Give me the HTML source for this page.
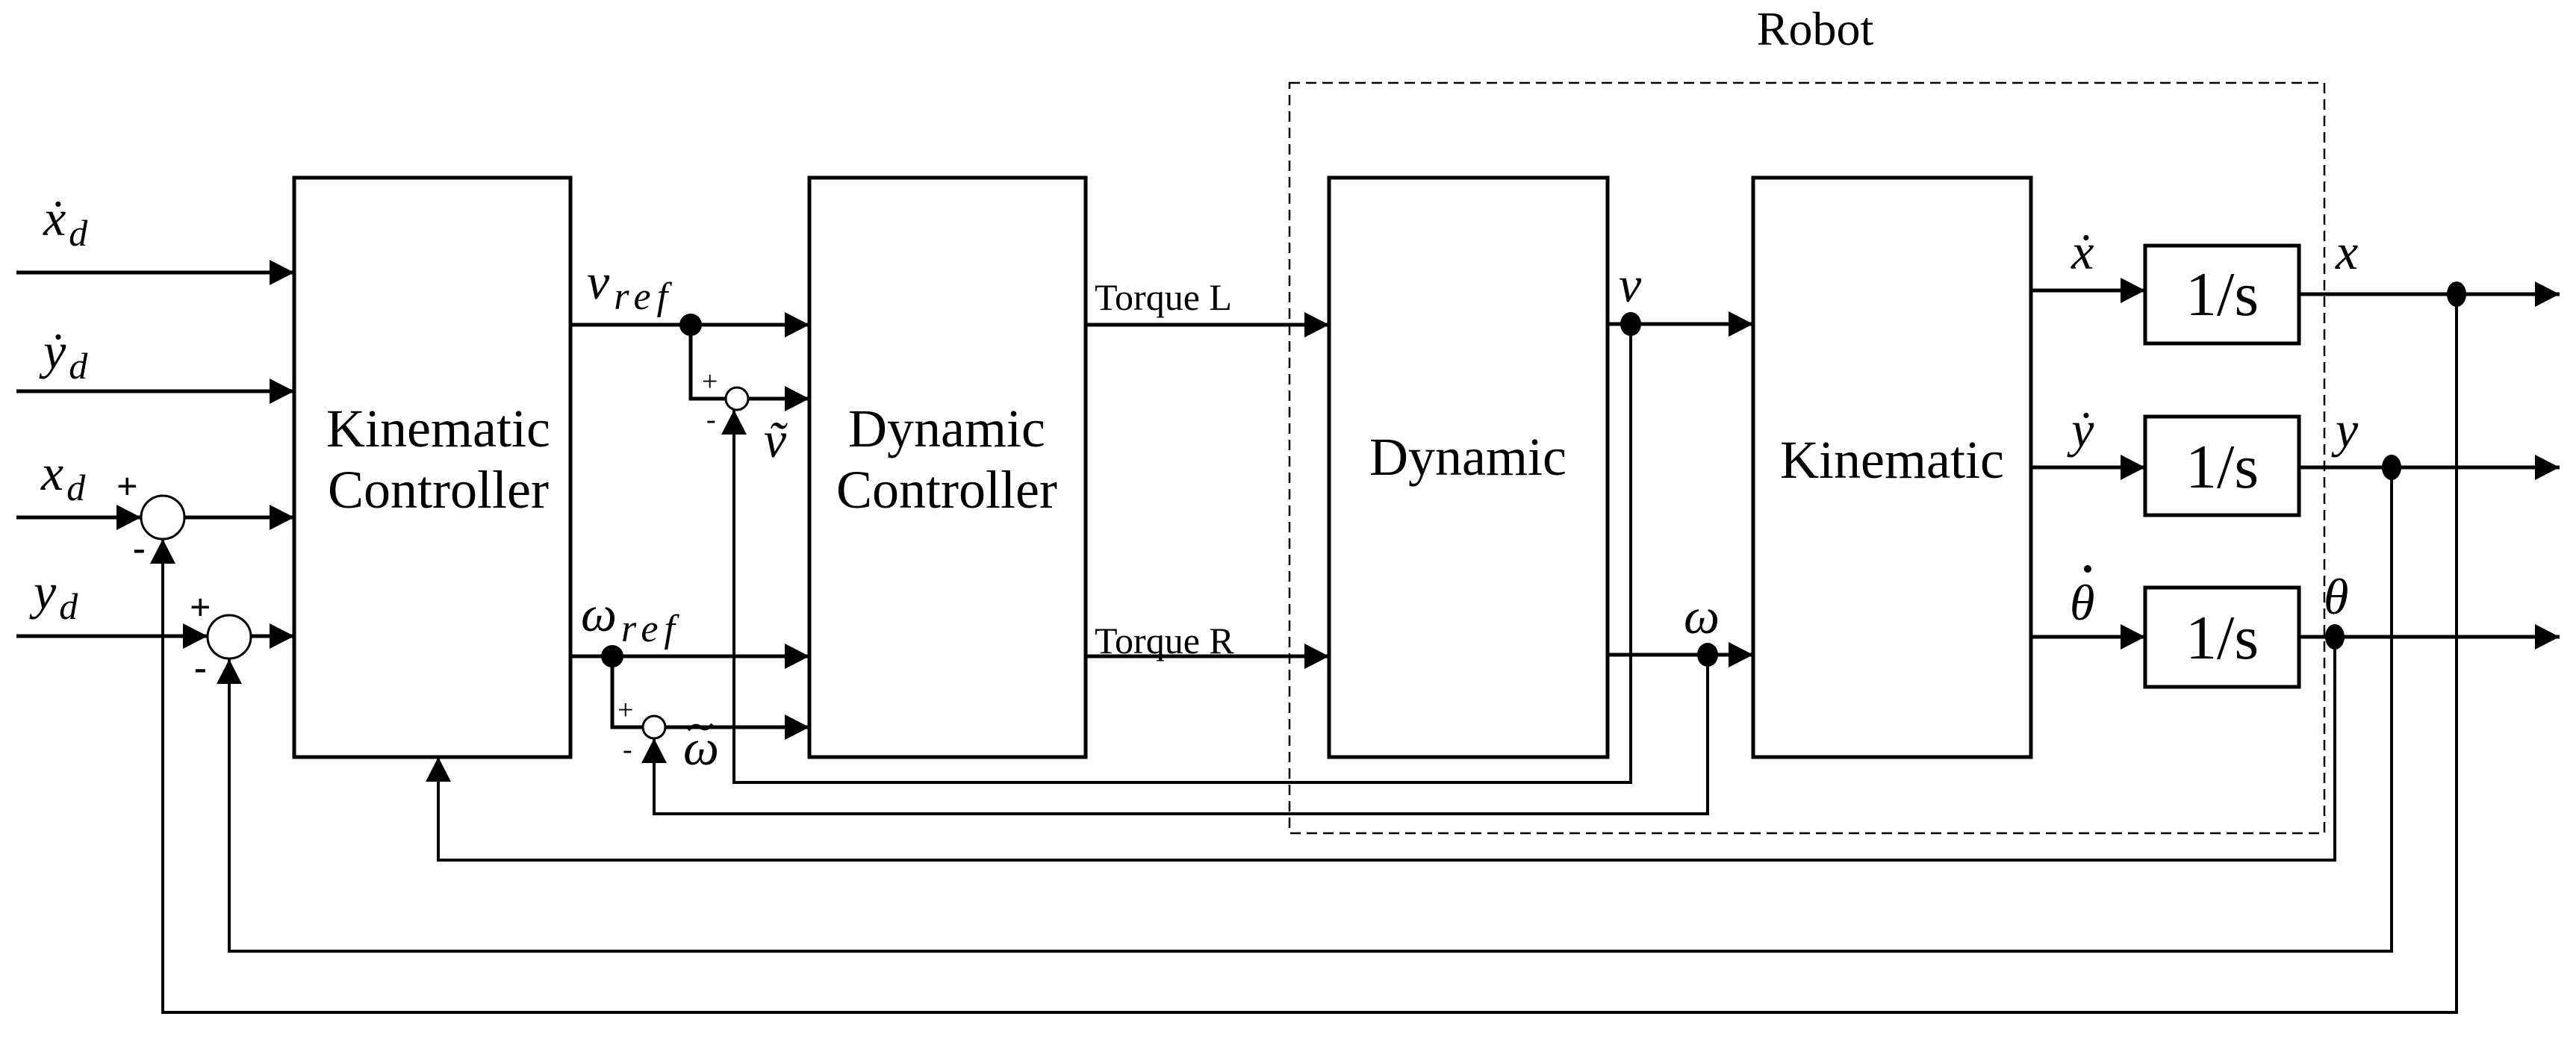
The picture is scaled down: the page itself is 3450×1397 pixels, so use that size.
<!DOCTYPE html>
<html><head><meta charset="utf-8"><style>
html,body{margin:0;padding:0;background:#fff}
svg{display:block}
text{font-family:"Liberation Serif",serif;fill:#000}
.m{font-style:italic}
</style></head><body>
<svg width="3450" height="1397" viewBox="0 0 3450 1397" xmlns="http://www.w3.org/2000/svg">
<defs>
<marker id="a" markerUnits="userSpaceOnUse" markerWidth="34" markerHeight="34" refX="33" refY="17" orient="auto">
<polygon points="0,0 33,17 0,34" fill="#000"/></marker>
</defs>
<g fill="none" stroke="#000" stroke-width="5">
<rect x="394" y="238" width="370" height="776"/>
<rect x="1084" y="238" width="370" height="776"/>
<rect x="1780" y="238" width="373" height="776"/>
<rect x="2348" y="238" width="372" height="776"/>
<rect x="2873" y="329" width="206" height="131"/>
<rect x="2873" y="558" width="206" height="132"/>
<rect x="2873" y="787" width="206" height="133"/>
</g>
<rect x="1727" y="111" width="1386" height="1005" fill="none" stroke="#000" stroke-width="2.5" stroke-dasharray="14,8"/>
<g fill="none" stroke="#000" stroke-width="5">
<line x1="22" y1="365" x2="394" y2="365" marker-end="url(#a)"/>
<line x1="22" y1="524" x2="394" y2="524" marker-end="url(#a)"/>
<line x1="22" y1="693" x2="189" y2="693" marker-end="url(#a)"/>
<line x1="247" y1="693" x2="394" y2="693" marker-end="url(#a)"/>
<line x1="22" y1="852" x2="278" y2="852" marker-end="url(#a)"/>
<line x1="336" y1="852" x2="394" y2="852" marker-end="url(#a)"/>
<line x1="764" y1="435" x2="1084" y2="435" marker-end="url(#a)"/>
<polyline points="925,435 925,534 972,534"/>
<line x1="1002" y1="534" x2="1084" y2="534" marker-end="url(#a)"/>
<line x1="764" y1="879" x2="1084" y2="879" marker-end="url(#a)"/>
<polyline points="820,879 820,974 861,974"/>
<line x1="891" y1="974" x2="1084" y2="974" marker-end="url(#a)"/>
<line x1="1454" y1="435" x2="1780" y2="435" marker-end="url(#a)"/>
<line x1="1454" y1="879" x2="1780" y2="879" marker-end="url(#a)"/>
<line x1="2153" y1="434" x2="2348" y2="434" marker-end="url(#a)"/>
<line x1="2153" y1="877" x2="2348" y2="877" marker-end="url(#a)"/>
<line x1="2720" y1="389" x2="2873" y2="389" marker-end="url(#a)"/>
<line x1="2720" y1="626" x2="2873" y2="626" marker-end="url(#a)"/>
<line x1="2720" y1="853" x2="2873" y2="853" marker-end="url(#a)"/>
<line x1="3079" y1="394" x2="3428" y2="394" marker-end="url(#a)"/>
<line x1="3079" y1="626" x2="3428" y2="626" marker-end="url(#a)"/>
<line x1="3079" y1="853" x2="3428" y2="853" marker-end="url(#a)"/>
</g>
<g fill="none" stroke="#000" stroke-width="4">
<polyline points="2184,434 2184,1048 983,1048 983,549" marker-end="url(#a)"/>
<polyline points="2287,877 2287,1090 876,1090 876,989" marker-end="url(#a)"/>
<polyline points="3127,853 3127,1152 587,1152 587,1014" marker-end="url(#a)"/>
<polyline points="3203,626 3203,1274 307,1274 307,883" marker-end="url(#a)"/>
<polyline points="3290,394 3290,1356 218,1356 218,722" marker-end="url(#a)"/>
</g>
<g fill="#fff" stroke="#000" stroke-width="3">
<circle cx="218" cy="693" r="29"/>
<circle cx="307" cy="853" r="29"/>
<circle cx="987" cy="534" r="15"/>
<circle cx="876" cy="974" r="15"/>
</g>
<g fill="#000">
<circle cx="925" cy="435" r="15"/>
<circle cx="820" cy="879" r="15"/>
<ellipse cx="2184" cy="434" rx="14" ry="16"/>
<ellipse cx="2287" cy="877" rx="14" ry="16"/>
<ellipse cx="3290" cy="394" rx="13" ry="17"/>
<ellipse cx="3203" cy="626" rx="13" ry="17"/>
<ellipse cx="3127" cy="853" rx="13" ry="17"/>
</g>
<g font-size="50" font-family="Liberation Sans, sans-serif" font-weight="bold">
<text x="156" y="668">+</text><text x="178" y="750">-</text>
<text x="254" y="830">+</text><text x="260" y="910">-</text>
</g>
<g font-size="38">
<text x="940" y="523">+</text><text x="946" y="574">-</text>
<text x="827" y="963">+</text><text x="834" y="1016">-</text>
</g>
<g font-size="72" text-anchor="middle">
<text x="587" y="598">Kinematic</text>
<text x="587" y="680">Controller</text>
<text x="1268" y="598">Dynamic</text>
<text x="1268" y="680">Controller</text>
<text x="1966" y="636">Dynamic</text>
<text x="2534" y="640">Kinematic</text>
</g>
<g font-size="84" text-anchor="middle">
<text x="2976" y="422">1/s</text>
<text x="2976" y="653">1/s</text>
<text x="2976" y="882">1/s</text>
</g>
<text x="2431" y="60" font-size="64" text-anchor="middle">Robot</text>
<g font-size="50">
<text x="1466" y="415">Torque L</text>
<text x="1466" y="875">Torque R</text>
</g>
<g class="m" font-size="68">
<text x="58" y="315">ẋ<tspan font-size="50" dx="4" dy="14">d</tspan></text>
<text x="58" y="493">ẏ<tspan font-size="50" dx="4" dy="14">d</tspan></text>
<text x="55" y="656">x<tspan font-size="50" dx="4" dy="14">d</tspan></text>
<text x="45" y="815">y<tspan font-size="50" dx="4" dy="14">d</tspan></text>
<text x="786" y="400">v<tspan font-size="52" dx="6" dy="14" letter-spacing="8">ref</tspan></text>
<text x="778" y="845">ω<tspan font-size="52" dx="6" dy="14" letter-spacing="8">ref</tspan></text>
<text x="1023" y="612">ṽ</text>
<text x="915" y="1024">ω</text>
<text x="2168" y="404">v</text>
<text x="2255" y="848">ω</text>
<text x="2774" y="360">ẋ</text>
<text x="2774" y="598">ẏ</text>
<text x="2772" y="830">θ</text>
<text x="3128" y="360">x</text>
<text x="3128" y="598">y</text>
<text x="3112" y="822">θ</text>
</g>
<path d="M922,978 q8,-10 16,-4 t16,-4" fill="none" stroke="#000" stroke-width="4"/>
<circle cx="2796" cy="762" r="5" fill="#000"/>
</svg>
</body></html>
